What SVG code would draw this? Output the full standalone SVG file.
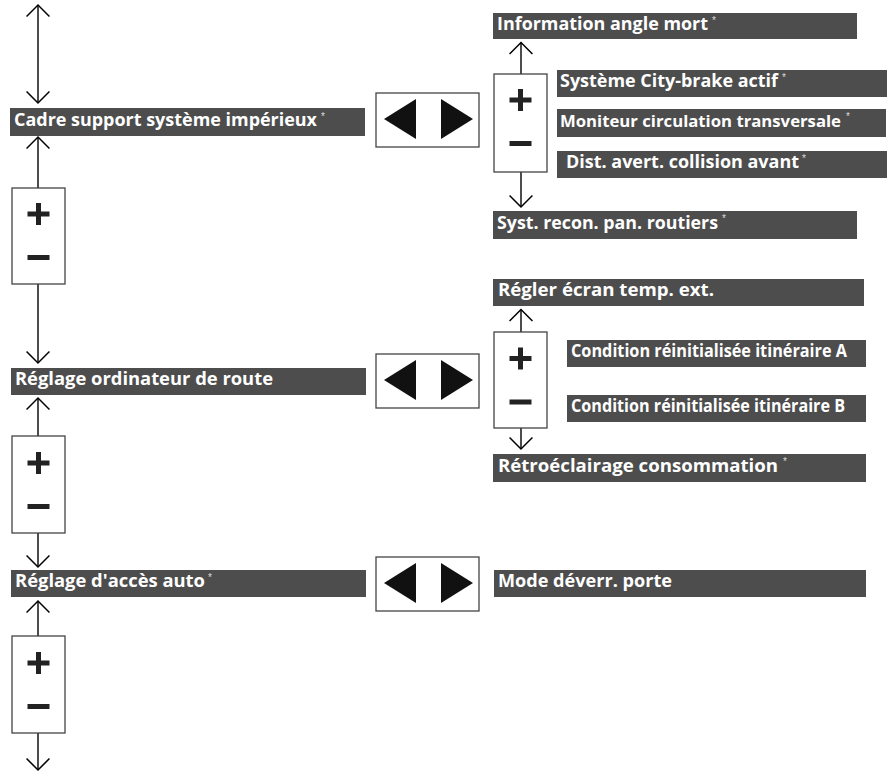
<svg xmlns="http://www.w3.org/2000/svg" width="887" height="773" viewBox="0 0 887 773">
<defs>
<style>
.bar{fill:#4d4d4d}
.t{font-family:"Open Sans","Liberation Sans",sans-serif;font-weight:bold;font-size:17.5px;fill:#fff}
.ast{font-family:"Liberation Sans",sans-serif;font-size:10px;fill:#ddd}
.box{fill:#fff;stroke:#444;stroke-width:1.3}
.pm{fill:#222}
.tri{fill:#111}
.ln{fill:none;stroke:#000;stroke-width:1.4}
</style>
<marker id="ah" markerWidth="24" markerHeight="24" refX="11" refY="11" orient="auto" markerUnits="userSpaceOnUse" viewBox="0 0 22 22">
<path d="M0.5,0.5 L11,11 L0.5,21.5" fill="none" stroke="#000" stroke-width="1.4"/>
</marker>
<g id="pmsym">
<rect x="-11" y="-2.5" width="22" height="5" class="pm"/>
<rect x="-2.5" y="-11" width="5" height="22" class="pm"/>
<rect x="-11" y="41" width="22" height="5" class="pm"/>
</g>
<g id="lr">
<rect x="0" y="0" width="103" height="54" class="box"/>
<polygon points="8,26 40,6 40,46" class="tri"/>
<polygon points="65,6 65,46 97,26" class="tri"/>
</g>
</defs>
<rect width="887" height="773" fill="#fff"/>

<g id="connectors">
<line x1="38" y1="50" x2="38" y2="5" class="ln" marker-end="url(#ah)"/>
<line x1="38" y1="50" x2="38" y2="103" class="ln" marker-end="url(#ah)"/>
<line x1="38" y1="188" x2="38" y2="137" class="ln" marker-end="url(#ah)"/>
<line x1="38" y1="284" x2="38" y2="363" class="ln" marker-end="url(#ah)"/>
<line x1="38" y1="436" x2="38" y2="398" class="ln" marker-end="url(#ah)"/>
<line x1="38" y1="533" x2="38" y2="567" class="ln" marker-end="url(#ah)"/>
<line x1="38" y1="636" x2="38" y2="601" class="ln" marker-end="url(#ah)"/>
<line x1="38" y1="733" x2="38" y2="770" class="ln" marker-end="url(#ah)"/>
<line x1="521" y1="74" x2="521" y2="42.5" class="ln" marker-end="url(#ah)"/>
<line x1="521" y1="172" x2="521" y2="207" class="ln" marker-end="url(#ah)"/>
<line x1="521" y1="332" x2="521" y2="309.5" class="ln" marker-end="url(#ah)"/>
<line x1="521" y1="428" x2="521" y2="449" class="ln" marker-end="url(#ah)"/>
</g>

<g id="bar-cadre">
<rect class="bar" x="10" y="108" width="355" height="28"/>
<text class="t" x="14" y="126" textLength="303" lengthAdjust="spacingAndGlyphs">Cadre support système impérieux</text>
<text class="ast" x="321" y="120">*</text>
</g>
<g id="bar-ordi">
<rect class="bar" x="11" y="368" width="355" height="27"/>
<text class="t" x="15" y="385" textLength="258" lengthAdjust="spacingAndGlyphs">Réglage ordinateur de route</text>
</g>
<g id="bar-acces">
<rect class="bar" x="11" y="570" width="355" height="27"/>
<text class="t" x="15" y="587" textLength="190" lengthAdjust="spacingAndGlyphs">Réglage d'accès auto</text>
<text class="ast" x="208" y="581">*</text>
</g>

<g id="pm-left-1"><rect class="box" x="12" y="188" width="53" height="96"/><use href="#pmsym" x="38.5" y="214"/></g>
<g id="pm-left-2"><rect class="box" x="12" y="436" width="53" height="97"/><use href="#pmsym" x="38.5" y="463"/></g>
<g id="pm-left-3"><rect class="box" x="12" y="636" width="53" height="97"/><use href="#pmsym" x="38.5" y="663"/></g>

<g id="lr-1"><use href="#lr" x="376" y="93"/></g>
<g id="lr-2"><use href="#lr" x="376" y="354"/></g>
<g id="lr-3"><use href="#lr" x="376" y="557"/></g>

<g id="pm-right-1"><rect class="box" x="494" y="74" width="53" height="98"/><use href="#pmsym" x="520.5" y="100"/></g>
<g id="pm-right-2"><rect class="box" x="494" y="332" width="53" height="96"/><use href="#pmsym" x="520.5" y="358.5"/></g>

<g id="bar-info">
<rect class="bar" x="493" y="13" width="364" height="26"/>
<text class="t" x="497" y="30" textLength="211" lengthAdjust="spacingAndGlyphs">Information angle mort</text>
<text class="ast" x="712" y="24">*</text>
</g>
<g id="bar-city">
<rect class="bar" x="557" y="70" width="330" height="27"/>
<text class="t" x="560" y="87" textLength="218" lengthAdjust="spacingAndGlyphs">Système City-brake actif</text>
<text class="ast" x="782" y="81">*</text>
</g>
<g id="bar-moniteur">
<rect class="bar" x="557" y="109" width="329" height="28"/>
<text class="t" x="560" y="126.5" style="font-size:16px" textLength="281" lengthAdjust="spacingAndGlyphs">Moniteur circulation transversale</text>
<text class="ast" x="846" y="120">*</text>
</g>
<g id="bar-dist">
<rect class="bar" x="557" y="151" width="330" height="27"/>
<text class="t" x="566" y="168" textLength="233" lengthAdjust="spacingAndGlyphs">Dist. avert. collision avant</text>
<text class="ast" x="802" y="162">*</text>
</g>
<g id="bar-recon">
<rect class="bar" x="493" y="211" width="364" height="28"/>
<text class="t" x="497" y="228.5" textLength="221" lengthAdjust="spacingAndGlyphs">Syst. recon. pan. routiers</text>
<text class="ast" x="722" y="222">*</text>
</g>
<g id="bar-regler">
<rect class="bar" x="493" y="279" width="371" height="27"/>
<text class="t" x="498" y="296" textLength="216" lengthAdjust="spacingAndGlyphs">Régler écran temp. ext.</text>
</g>
<g id="bar-condA">
<rect class="bar" x="567" y="340" width="299" height="27"/>
<text class="t" x="571" y="357" textLength="276" lengthAdjust="spacingAndGlyphs">Condition réinitialisée itinéraire A</text>
</g>
<g id="bar-condB">
<rect class="bar" x="567" y="395" width="299" height="27"/>
<text class="t" x="571" y="412" textLength="274" lengthAdjust="spacingAndGlyphs">Condition réinitialisée itinéraire B</text>
</g>
<g id="bar-retro">
<rect class="bar" x="493" y="454" width="373" height="28"/>
<text class="t" x="498" y="471.5" textLength="280" lengthAdjust="spacingAndGlyphs">Rétroéclairage consommation</text>
<text class="ast" x="783" y="465">*</text>
</g>
<g id="bar-mode">
<rect class="bar" x="494" y="570" width="372" height="27"/>
<text class="t" x="498" y="587" textLength="174" lengthAdjust="spacingAndGlyphs">Mode déverr. porte</text>
</g>
</svg>
